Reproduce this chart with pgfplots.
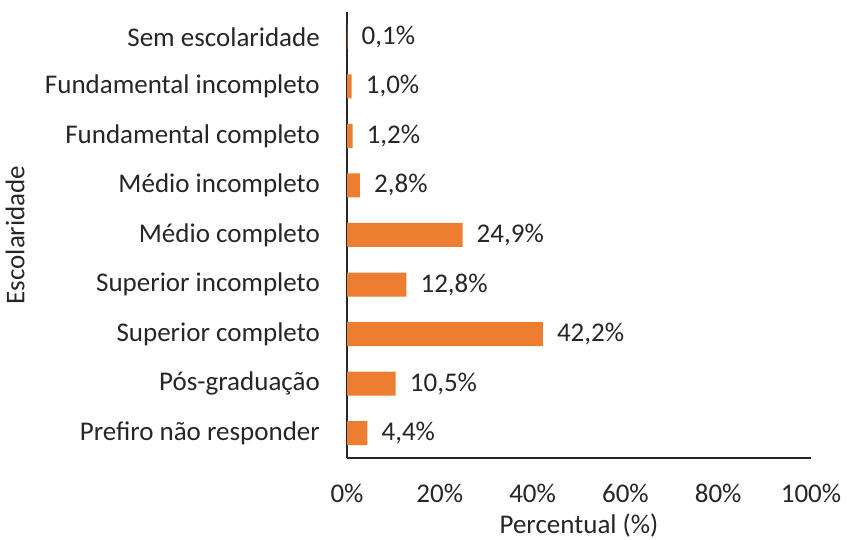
\documentclass[border=0pt]{standalone}
\usepackage{fontspec}
\setmainfont{Carlito}
\usepackage{pgfplots}
\pgfplotsset{compat=1.18}
\definecolor{barc}{HTML}{ED7D31}
\definecolor{txt}{HTML}{262626}
\newcommand{\fs}{\fontsize{27}{32}\selectfont}
\begin{document}
\begin{tikzpicture}[x=1pt,y=1pt]
\path[use as bounding box] (0,0) rectangle (856,540);
\begin{axis}[
  at={(347pt,82pt)}, anchor=south west,
  scale only axis, width=464pt, height=446pt,
  xbar, bar width=24pt,
  xmin=0, xmax=100, ymin=-0.5, ymax=8.5,
  ytick={0,...,8},
  yticklabels={Prefiro não responder, Pós-graduação, Superior completo, Superior incompleto, Médio completo, Médio incompleto, Fundamental completo, Fundamental incompleto, Sem escolaridade},
  xtick={0,20,...,100},
  xticklabel={\pgfmathprintnumber[assume math mode=true]{\tick}\%},
  major tick length=0pt,
  axis line style={draw=none},
  separate axis lines,
  axis x line*=bottom, axis y line*=left,
  every outer x axis line/.style={draw=black!85, line width=1.2pt},
  every outer y axis line/.style={draw=black!85, line width=1.2pt},
  x axis line style={-}, y axis line style={-},
  tick label style={font=\fs, text=txt},
  yticklabel style={anchor=east, inner sep=0pt, xshift=-27pt},
  xticklabel style={anchor=north, inner sep=0pt, yshift=-26pt},
  xlabel={Percentual (\%)},
  ylabel={Escolaridade},
  label style={font=\fs, text=txt},
  xlabel style={at={(axis description cs:0.5,0)}, anchor=north, inner sep=0pt, yshift=-55.5pt},
  ylabel style={at={(axis description cs:-0.7155,0.5)}, anchor=center, inner sep=0pt},
  nodes near coords={\pgfmathprintnumber[fixed,fixed zerofill,precision=1,use comma,assume math mode=true]{\pgfplotspointmeta}\%},
  every node near coord/.append style={font=\fs, text=txt, anchor=west, inner sep=0pt, xshift=14pt},
]
\addplot[fill=barc, draw=none] coordinates {
  (4.4,0) (10.5,1) (42.2,2) (12.8,3) (24.9,4) (2.8,5) (1.2,6) (1.0,7) (0.1,8)
};
\end{axis}
\end{tikzpicture}
\end{document}
